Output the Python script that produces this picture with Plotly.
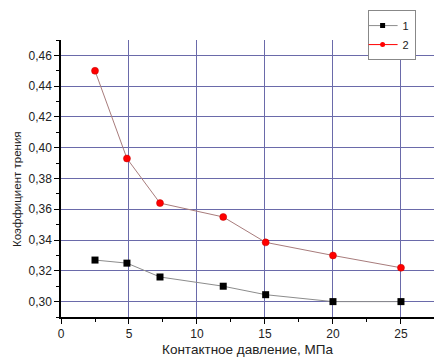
import plotly.graph_objects as go

pressure = [2.5, 4.85, 7.28, 11.93, 15.05, 20, 25]
series1 = [0.327, 0.325, 0.316, 0.310, 0.3045, 0.300, 0.300]
series2 = [0.450, 0.393, 0.364, 0.355, 0.3385, 0.330, 0.322]
names = ["1", "2"]
x_title = "Контактное давление, МПа"
y_title = "Коэффициент трения"

font = "Liberation Sans, Arial, sans-serif"
grid_col = "#6a6aaa"

fig = go.Figure()
fig.add_trace(go.Scatter(x=pressure, y=series1, mode="lines+markers", name=names[0],
                         line=dict(color="#8c8c8c", width=1),
                         marker=dict(symbol="square", size=7, color="black"),
                         showlegend=False))
fig.add_trace(go.Scatter(x=pressure, y=series2, mode="lines+markers", name=names[1],
                         line=dict(color="#a87c7c", width=1),
                         marker=dict(symbol="circle", size=7, color="red",
                                     line=dict(color="#c00000", width=0.5)),
                         showlegend=False))
# legend entries
fig.add_trace(go.Scatter(x=[None], y=[None], mode="lines+markers", name=names[0],
                         line=dict(color="#8c8c8c", width=1),
                         marker=dict(symbol="square", size=5, color="black")))
fig.add_trace(go.Scatter(x=[None], y=[None], mode="lines+markers", name=names[1],
                         line=dict(color="red", width=1),
                         marker=dict(symbol="circle", size=5, color="red")))

fig.update_layout(
    width=434, height=357,
    margin=dict(l=61, r=0, t=40, b=40),
    paper_bgcolor="white", plot_bgcolor="white",
    separators=", ",
    font=dict(family=font, size=12, color="#222"),
    legend=dict(x=0.822, y=1.108, xanchor="left", yanchor="top",
                bordercolor="#888", borderwidth=1, bgcolor="white",
                font=dict(size=11, color="#222"),
                itemwidth=30, tracegroupgap=0, indentation=-6),
    xaxis=dict(range=[0, 27.43], tickvals=[0, 5, 10, 15, 20, 25],
               showgrid=True, gridcolor=grid_col, gridwidth=1,
               showline=True, linecolor="black", linewidth=1.5,
               ticks="outside", ticklen=5, tickcolor="black",
               minor=dict(dtick=2.5, tick0=0, ticks="outside", ticklen=3, tickcolor="black", showgrid=False),
               zeroline=False,
               title=dict(text=x_title, font=dict(size=13.5), standoff=7)),
    yaxis=dict(range=[0.29, 0.47], tickvals=[0.30, 0.32, 0.34, 0.36, 0.38, 0.40, 0.42, 0.44, 0.46],
               tickformat=".2f",
               showgrid=True, gridcolor=grid_col, gridwidth=1,
               showline=True, linecolor="black", linewidth=1.5,
               ticks="outside", ticklen=5, tickcolor="black",
               minor=dict(dtick=0.01, tick0=0.29, ticks="outside", ticklen=3, tickcolor="black", showgrid=False),
               zeroline=False),
    annotations=[dict(text=y_title, textangle=-90, xref="paper", yref="paper",
                      x=0, y=0.462, xanchor="center", yanchor="middle", xshift=-44,
                      showarrow=False, font=dict(size=11.5, color="#222"))],
)

fig.write_html("out.html")
